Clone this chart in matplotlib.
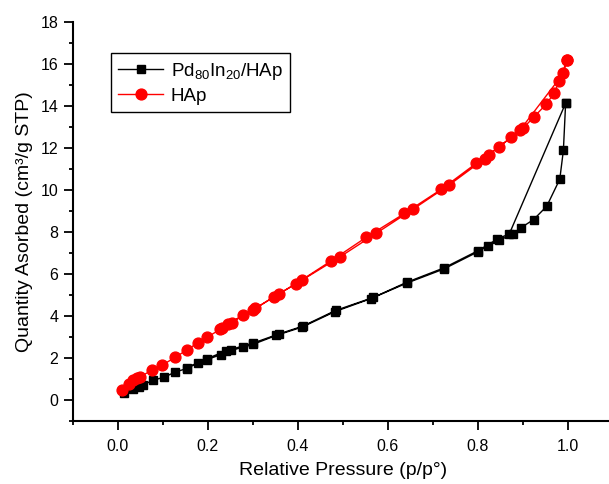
import numpy as np
import matplotlib.pyplot as plt
from matplotlib.ticker import MultipleLocator

plt.rcParams['font.family'] = ['Liberation Sans', 'DejaVu Sans']
plt.rcParams['mathtext.fontset'] = 'custom'
plt.rcParams['mathtext.rm'] = 'Liberation Sans'

# Pd80In20/HAp - adsorcion y desorcion
pd_ads_x = [0.015, 0.033, 0.047, 0.057, 0.078, 0.102, 0.128, 0.153, 0.178, 0.198,
            0.23, 0.252, 0.279, 0.3, 0.352, 0.41, 0.482, 0.562, 0.642, 0.724,
            0.8, 0.822, 0.848, 0.878, 0.896, 0.924, 0.953, 0.982, 0.99, 0.995]
pd_ads_y = [0.33, 0.52, 0.65, 0.73, 0.96, 1.09, 1.35, 1.51, 1.78, 1.94,
            2.18, 2.38, 2.53, 2.66, 3.09, 3.49, 4.22, 4.84, 5.58, 6.25,
            7.07, 7.36, 7.62, 7.93, 8.22, 8.61, 9.24, 10.53, 11.9, 14.15]
pd_des_x = [0.995, 0.87, 0.842, 0.8, 0.724, 0.642, 0.568, 0.484, 0.411, 0.358,
            0.3, 0.241, 0.198, 0.153]
pd_des_y = [14.15, 7.93, 7.66, 7.12, 6.3, 5.62, 4.9, 4.28, 3.53, 3.16,
            2.72, 2.36, 1.98, 1.55]

# HAp - adsorcion y desorcion
hap_ads_x = [0.01, 0.026, 0.033, 0.042, 0.05, 0.076, 0.099, 0.128, 0.153, 0.178,
             0.198, 0.228, 0.254, 0.279, 0.3, 0.348, 0.395, 0.474, 0.552, 0.637,
             0.719, 0.796, 0.848, 0.874, 0.9, 0.924, 0.952, 0.970, 0.981, 0.998]
hap_ads_y = [0.48, 0.8, 0.95, 1.04, 1.12, 1.44, 1.68, 2.05, 2.39, 2.74,
             3.0, 3.38, 3.7, 4.06, 4.3, 4.94, 5.54, 6.64, 7.76, 8.9,
             10.05, 11.28, 12.08, 12.52, 12.95, 13.48, 14.1, 14.65, 15.2, 16.2]
hap_des_x = [0.998, 0.99, 0.893, 0.824, 0.815, 0.736, 0.656, 0.574, 0.493, 0.41,
             0.358, 0.306, 0.244, 0.232]
hap_des_y = [16.2, 15.57, 12.85, 11.68, 11.5, 10.25, 9.1, 7.95, 6.82, 5.73,
             5.07, 4.38, 3.64, 3.43]

fig = plt.figure(figsize=(6.09, 4.84), dpi=100)
ax = fig.add_axes([0.1194, 0.1295, 0.887, 0.8244])

ax.plot(pd_ads_x + pd_des_x, pd_ads_y + pd_des_y, color="k", lw=1.0,
        marker="s", ms=6, label=r"$\mathregular{Pd_{80}In_{20}/HAp}$")
ax.plot(hap_ads_x + hap_des_x, hap_ads_y + hap_des_y, color="r", lw=1.0,
        marker="o", ms=7.8, label="HAp")

ax.set_xlim(-0.1, 1.1)
ax.set_ylim(-1, 18)
ax.xaxis.set_major_locator(MultipleLocator(0.2))
ax.xaxis.set_minor_locator(MultipleLocator(0.1))
ax.yaxis.set_major_locator(MultipleLocator(2))
ax.yaxis.set_minor_locator(MultipleLocator(1))
ax.xaxis.set_major_formatter(plt.FormatStrFormatter('%.1f'))
ax.tick_params(which='major', direction='out', length=6.5, width=1.3, labelsize=11.5)
ax.tick_params(axis='x', which='major', pad=6)
ax.tick_params(axis='y', which='major', pad=4)
ax.tick_params(which='minor', direction='out', length=3.2, width=1.3)

for s in ['top', 'right']:
    ax.spines[s].set_visible(False)
for s in ['left', 'bottom']:
    ax.spines[s].set_linewidth(1.5)

ax.set_xlabel("Relative Pressure (p/p°)", fontsize=14, labelpad=6)
ax.set_ylabel("Quantity Asorbed (cm³/g STP)", fontsize=14, labelpad=5)

leg = ax.legend(loc='upper left', bbox_to_anchor=(0.07, 0.922), borderaxespad=0,
                fontsize=13.5, fancybox=False, framealpha=1, edgecolor='k',
                handlelength=2.4, borderpad=0.4, labelspacing=0.3, handletextpad=0.4)
leg.get_frame().set_linewidth(1.0)

fig.savefig("out.png", dpi=100)
